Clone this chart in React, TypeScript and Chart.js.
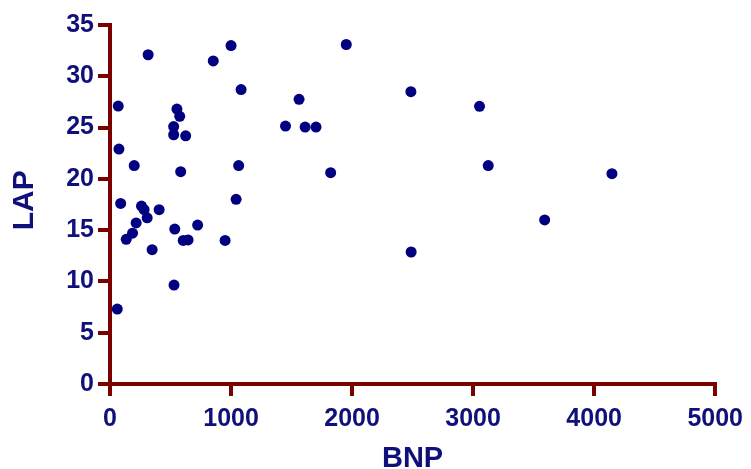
import React, { useEffect, useRef } from "react";
import { Chart, registerables } from "chart.js";

Chart.register(...registerables);

const bnp: number[] = [
  68, 553, 576, 526, 526, 625, 74, 200, 584, 1063, 1042, 88, 260, 282, 406, 307,
  216, 186, 134, 535, 724, 605, 645, 951, 348, 529, 60, 1000, 853, 1083, 1562,
  1450, 1612, 1702, 1823, 1952, 2486, 3053, 3125, 4147, 3591, 2488, 315,
];
const lap: number[] = [
  27.1, 26.8, 26.1, 25.1, 24.3, 24.2, 22.9, 21.3, 20.7, 21.3, 18.0, 17.6, 17.35,
  17.0, 17.0, 16.2, 15.7, 14.7, 14.1, 15.1, 15.5, 14.0, 14.05, 14.0, 13.1, 9.65,
  7.3, 33.0, 31.5, 28.7, 27.75, 25.15, 25.05, 25.05, 20.6, 33.1, 28.5, 27.07,
  21.3, 20.5, 16.0, 12.87, 32.1,
];
const xTicks: number[] = [0, 1000, 2000, 3000, 4000, 5000];
const yTicks: number[] = [0, 5, 10, 15, 20, 25, 30, 35];
const xTitle = "BNP";
const yTitle = "LAP";

const AXIS = "#7b0000";
const TEXT = "#10107a";
const DOT = "#000080";
const FONT = "'Liberation Sans', Arial, sans-serif";

export default function App() {
  const ref = useRef<HTMLCanvasElement | null>(null);
  useEffect(() => {
    document.body.style.margin = "0";
    const canvas = ref.current;
    if (!canvas) return;
    const chart = new Chart(canvas, {
      type: "scatter",
      data: {
        datasets: [
          {
            data: bnp.map((x, i) => ({ x, y: lap[i] })),
            pointRadius: 5.5,
            pointHoverRadius: 5.5,
            pointBackgroundColor: DOT,
            pointBorderColor: DOT,
            pointBorderWidth: 0,
          },
        ],
      },
      options: {
        animation: false,
        responsive: false,
        devicePixelRatio: 1,
        layout: { padding: { top: 25, right: 31, bottom: 0, left: 0 } },
        plugins: { legend: { display: false }, tooltip: { enabled: false } },
        scales: {
          x: {
            type: "linear",
            min: 0,
            max: 5000,
            afterBuildTicks: (s: any) => {
              s.ticks = xTicks.map((v) => ({ value: v }));
            },
            afterFit: (s: any) => {
              s.height = 85;
            },
            grid: {
              drawOnChartArea: false,
              drawTicks: true,
              tickLength: 12,
              color: AXIS,
              lineWidth: 4,
            },
            border: { display: true, color: AXIS, width: 4 },
            ticks: {
              color: TEXT,
              padding: 8,
              maxRotation: 0,
              autoSkip: false,
              callback: (v: any) => String(v),
              font: { family: FONT, size: 25, weight: "bold" },
            },
            title: {
              display: true,
              text: xTitle,
              color: TEXT,
              padding: { top: 0, bottom: 0 },
              font: { family: FONT, size: 29, weight: "bold", lineHeight: 0.7 },
            },
          },
          y: {
            type: "linear",
            min: 0,
            max: 35,
            afterBuildTicks: (s: any) => {
              s.ticks = yTicks.map((v) => ({ value: v }));
            },
            afterFit: (s: any) => {
              s.width = 110;
            },
            grid: {
              drawOnChartArea: false,
              drawTicks: true,
              tickLength: 12,
              color: AXIS,
              lineWidth: 4,
            },
            border: { display: true, color: AXIS, width: 4 },
            ticks: {
              color: TEXT,
              padding: 4,
              autoSkip: false,
              font: { family: FONT, size: 25, weight: "bold" },
            },
            title: {
              display: true,
              text: " " + yTitle,
              color: TEXT,
              padding: { top: 7, bottom: 0 },
              font: { family: FONT, size: 30, weight: "bold" },
            },
          },
        },
      },
    });
    return () => chart.destroy();
  }, []);
  return (
    <div style={{ width: 751, height: 469 }}>
      <canvas ref={ref} width={751} height={469} style={{ display: "block" }} />
    </div>
  );
}
